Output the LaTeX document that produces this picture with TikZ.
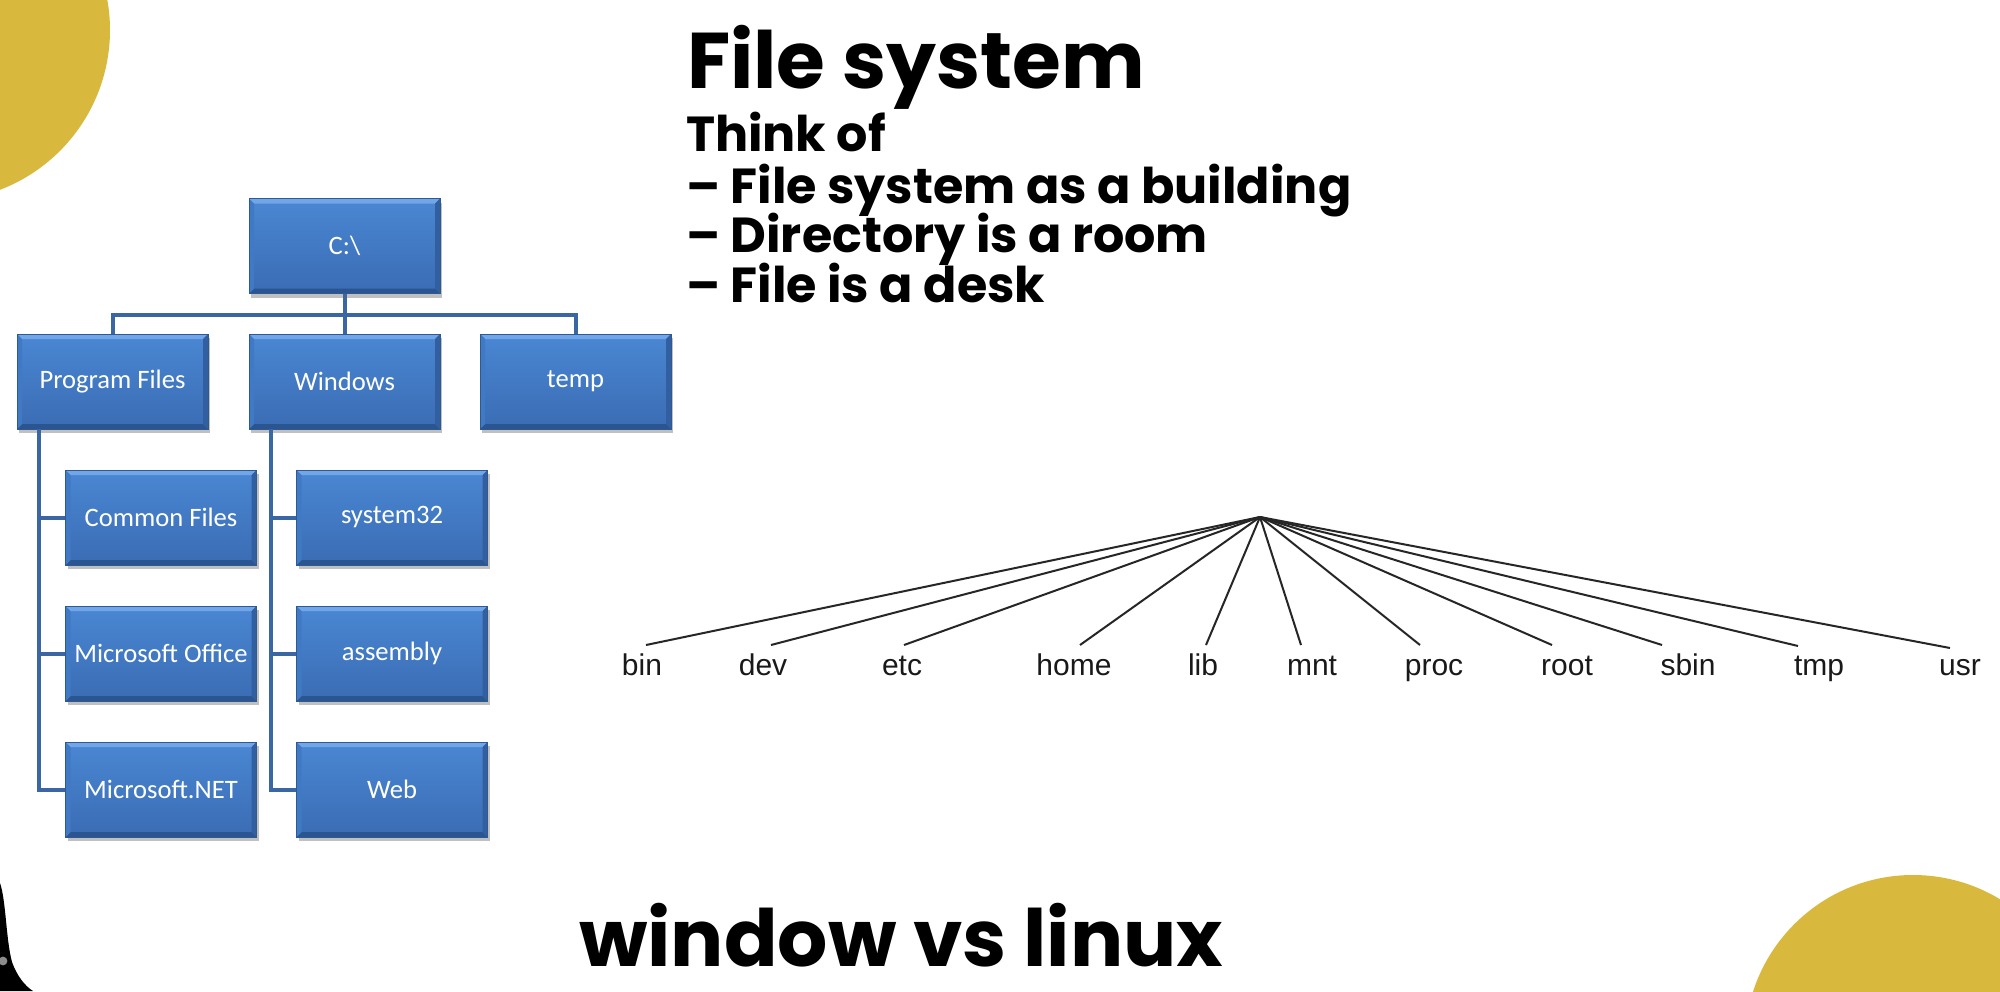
\documentclass[tikz,border=0pt]{standalone}
\usepackage{fontspec}
\usetikzlibrary{shadows}
\newfontfamily\popf{Poppins}
\newfontfamily\carl{Carlito}
\newfontfamily\arialf{Liberation Sans}
\definecolor{gold}{HTML}{D8B93D}
\definecolor{facetop}{HTML}{4A87D3}
\definecolor{facebot}{HTML}{3A6CB3}
\definecolor{bevtop}{HTML}{72A6E8}
\definecolor{bevbot}{HTML}{2B5590}
\definecolor{bevl}{HTML}{4079C4}
\definecolor{bevr}{HTML}{325FA0}
\definecolor{boxedge}{HTML}{2E5A93}
\definecolor{connc}{HTML}{3A66A3}
\tikzset{
  fbox/.style={rectangle, minimum width=95.5pt, minimum height=47.5pt, inner sep=0pt,
    top color=facetop, bottom color=facebot, draw=boxedge, line width=0.4pt,
    text=white, font=\carl\fontsize{13.3}{15}\selectfont,
    drop shadow={shadow xshift=1.2pt, shadow yshift=-2pt, opacity=0.35, fill=black!70},
    path picture={
      \path (path picture bounding box.north west) coordinate (pw)
            (path picture bounding box.south east) coordinate (pe);
      \fill[bevtop] (pw) -- (pw -| pe) -- ([shift={(-2.5pt,-2.5pt)}]pw -| pe) -- ([shift={(2.5pt,-2.5pt)}]pw) -- cycle;
      \fill[bevbot] (pe) -- (pe -| pw) -- ([shift={(2.5pt,2.5pt)}]pe -| pw) -- ([shift={(-2.5pt,2.5pt)}]pe) -- cycle;
      \fill[bevl] (pw) -- ([shift={(2.5pt,-2.5pt)}]pw) -- ([shift={(2.5pt,2.5pt)}]pe -| pw) -- (pe -| pw) -- cycle;
      \fill[bevr] (pw -| pe) -- ([shift={(-2.5pt,-2.5pt)}]pw -| pe) -- ([shift={(-2.5pt,2.5pt)}]pe) -- (pe) -- cycle;
    }},
  conn/.style={draw=connc, line width=2pt},
  lx/.style={draw=black!85, line width=1pt},
  lab/.style={anchor=base, font=\arialf\fontsize{15}{15}\selectfont, text=black!90},
  tline/.style={anchor=base west, font=\popf\bfseries\fontsize{24.6}{25}\selectfont},
  bigt/.style={anchor=base west, font=\popf\bfseries\fontsize{39.5}{40}\selectfont},
}
\begin{document}
\begin{tikzpicture}[x={(0.5pt,0)}, y={(0,-0.5pt)}]
\useasboundingbox (0,0) rectangle (2000,991);
\clip (0,0) rectangle (2000,991);
\fill[white] (0,0) rectangle (2000,991);
% decorations
\fill[gold] (-61,30) circle (85.5pt);
\fill[gold] (1913,1043) circle (84pt);
\fill[black] (0,883) .. controls (6,900) and (6,940) .. (12,962) .. controls (17,976) and (25,986) .. (33,991) -- (0,991) -- cycle;
\fill[black!45] (3,961) circle (2.2pt);

% windows tree
\coordinate (bus) at (344.5,315);
\coordinate (pfs) at (39,429);
\coordinate (wns) at (271,429);

\node[fbox] (C) at (344.5,246) {C:\textbackslash};
\node[fbox] (PF) at (112.5,381.5) {Program Files};
\node[fbox] (Win) at (344.5,381.5) {Windows};
\node[fbox] (temp) at (575.5,381.5) {temp};

\draw[conn] (C.south) -- (bus);
\draw[conn] (PF.north) |- (bus) -| (temp.north);
\draw[conn] (bus) -- (Win.north);
\draw[conn] (pfs) |- (161,789.5);
\draw[conn] (wns) |- (392,789.5);
\draw[conn] (39,517.5) -- (161,517.5);
\draw[conn] (39,653.5) -- (161,653.5);
\draw[conn] (271,517.5) -- (392,517.5);
\draw[conn] (271,653.5) -- (392,653.5);

\node[fbox] (CF) at (161,517.5) {Common Files};
\node[fbox] (MO) at (161,653.5) {Microsoft Office};
\node[fbox] (NET) at (161,789.5) {Microsoft.NET};
\node[fbox] (S32) at (392,517.5) {system32};
\node[fbox] (ASM) at (392,653.5) {assembly};
\node[fbox] (WEB) at (392,789.5) {Web};

% texts
\node[bigt] (title) at (680,88) {File system};
\node[tline] (t1) at (679,151) {Think of};
\node[tline] (t2) at (679,203) {– File system as a building};
\node[tline] (t3) at (679,252) {– Directory is a room};
\node[tline] (t4) at (679,302) {– File is a desk};
\node[bigt] (foot) at (572,966) {window vs linux};

% linux tree
\coordinate (root) at (1260,517);
\node[lab] (bin) at (642,675) {bin};
\node[lab] (dev) at (763,675) {dev};
\node[lab] (etc) at (902,675) {etc};
\node[lab] (home) at (1074,675) {home};
\node[lab] (lib) at (1203,675) {lib};
\node[lab] (mnt) at (1312,675) {mnt};
\node[lab] (proc) at (1434,675) {proc};
\node[lab] (rootl) at (1567,675) {root};
\node[lab] (sbin) at (1688,675) {sbin};
\node[lab] (tmp) at (1819,675) {tmp};
\node[lab] (usr) at (1960,675) {usr};
\coordinate (ebin) at (646,645);
\coordinate (edev) at (771,645);
\coordinate (eetc) at (904,645);
\coordinate (ehome) at (1080,645);
\coordinate (elib) at (1206,645);
\coordinate (emnt) at (1301,645);
\coordinate (eproc) at (1420,645);
\coordinate (eroot) at (1552,645);
\coordinate (esbin) at (1662,645);
\coordinate (etmp) at (1798,646);
\coordinate (eusr) at (1950,648);
\foreach \e in {ebin,edev,eetc,ehome,elib,emnt,eproc,eroot,esbin,etmp,eusr}
  \draw[lx] (root) -- (\e);
\end{tikzpicture}
\end{document}
